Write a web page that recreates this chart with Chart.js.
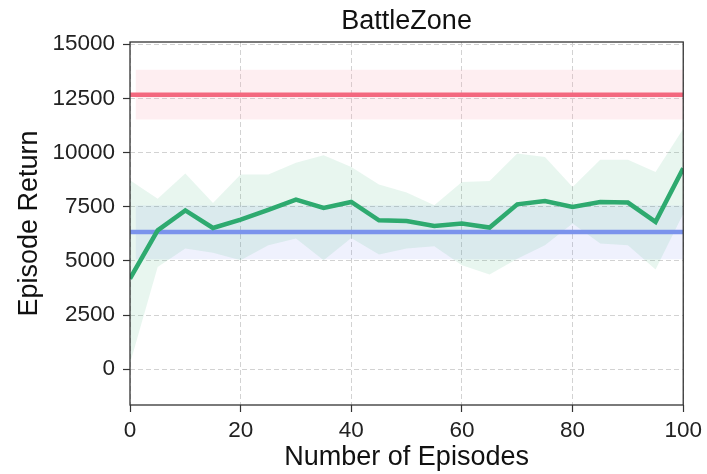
<!DOCTYPE html>
<html>
<head>
<meta charset="utf-8">
<script src="https://cdn.jsdelivr.net/npm/chart.js@4.4.1/dist/chart.umd.min.js"></script>
<style>
  html, body { margin: 0; padding: 0; background: #fff; }
  #wrap { width: 707px; height: 474px; }
</style>
</head>
<body>
<div id="wrap"><canvas id="chart" width="707" height="474"></canvas></div>
<script>
// episode checkpoints (x axis)
const episodes = [0, 5, 10, 15, 20, 25, 30, 35, 40, 45, 50, 55, 60, 65, 70, 75, 80, 85, 90, 95, 100];

// our method: mean return and spread
const greenMean  = [4180, 6410, 7330, 6520, 6900, 7350, 7830, 7440, 7720, 6870, 6840, 6610, 6720, 6540, 7610, 7760, 7490, 7720, 7690, 6800, 9270];
const greenUpper = [8720, 7870, 9030, 7670, 8990, 8990, 9530, 9870, 9330, 8530, 8150, 7570, 8640, 8690, 9950, 9790, 8410, 9670, 9670, 9100, 11100];
const greenLower = [260, 4720, 5570, 5370, 5030, 5720, 6030, 5030, 6060, 5300, 5570, 5670, 4800, 4370, 5100, 5720, 6720, 5800, 5720, 4600, 7180];

// baselines (constant) with their bands
const lineRange = [0, 100];
const bandRange = [1, 100];
const redMean = 12670, redUpper = 13820, redLower = 11520;
const blueMean = 6330, blueUpper = 7550, blueLower = 5080;

// ticks
const yTicks = [0, 2500, 5000, 7500, 10000, 12500, 15000];
const xTicks = [0, 20, 40, 60, 80, 100];

const FONT = "'Liberation Sans', Arial, sans-serif";

function flat(range, v) {
    return range.map(x => ({ x: x, y: v }));
}
function pts(ys) {
    return episodes.map((x, i) => ({ x: x, y: ys[i] }));
}

const base = { pointRadius: 0, borderWidth: 0, tension: 0, fill: false };

// listed bottom to top
const layers = [
    Object.assign({}, base, { data: flat(bandRange, redUpper), fill: '+1', backgroundColor: 'rgba(250, 170, 185, 0.2)' }),
    Object.assign({}, base, { data: flat(bandRange, redLower) }),
    Object.assign({}, base, { data: flat(bandRange, blueUpper), fill: '+1', backgroundColor: 'rgba(120, 140, 240, 0.12)' }),
    Object.assign({}, base, { data: flat(bandRange, blueLower) }),
    Object.assign({}, base, { data: pts(greenUpper), fill: '+1', backgroundColor: 'rgba(46, 170, 111, 0.11)' }),
    Object.assign({}, base, { data: pts(greenLower) }),
    Object.assign({}, base, { data: flat(lineRange, redMean), borderWidth: 4.5, borderColor: '#f3687f' }),
    Object.assign({}, base, { data: flat(lineRange, blueMean), borderWidth: 4.5, borderColor: '#7b93ec' }),
    Object.assign({}, base, { data: pts(greenMean), borderWidth: 4.5, borderColor: '#2eaa6f', borderJoinStyle: 'miter' })
];
layers.forEach((d, i) => { d.order = layers.length - i; });

// box around the plot (matplotlib style spines) + title over the axes
const frame = {
    id: 'frame',
    afterDatasetsDraw(chart) {
        const a = chart.chartArea, ctx = chart.ctx;
        ctx.save();
        ctx.strokeStyle = '#333';
        ctx.lineWidth = 1.3;
        ctx.strokeRect(a.left, a.top, a.right - a.left, a.bottom - a.top);
        ctx.fillStyle = '#111';
        ctx.font = '27px ' + FONT;
        ctx.textAlign = 'center';
        ctx.textBaseline = 'alphabetic';
        ctx.fillText('BattleZone', (a.left + a.right) / 2, 29);
        ctx.restore();
    }
};

const gridOpts = { color: '#d2d2d2', tickColor: '#333', tickLength: 7, tickWidth: 1.2, tickBorderDash: [] };

const ctx = document.getElementById('chart').getContext('2d');
new Chart(ctx, {
    type: 'line',
    data: { datasets: layers },
    options: {
        responsive: false,
        animation: false,
        layout: { padding: { left: 0, right: 23, top: 42, bottom: 0 } },
        plugins: {
            legend: { display: false },
            tooltip: { enabled: false }
        },
        scales: {
            x: {
                type: 'linear',
                min: 0,
                max: 100,
                afterBuildTicks: s => { s.ticks = xTicks.map(v => ({ value: v })); },
                afterFit: s => { s.height = 69; },
                grid: gridOpts,
                border: { display: false, dash: [5, 3] },
                ticks: { color: '#222', padding: 5, maxRotation: 0, font: { family: FONT, size: 22.5 }, callback: v => String(v) },
                title: { display: true, text: 'Number of Episodes', color: '#111', padding: { top: 0, bottom: 0 }, font: { family: FONT, size: 27 } }
            },
            y: {
                type: 'linear',
                min: -1650,
                max: 15100,
                afterBuildTicks: s => { s.ticks = yTicks.map(v => ({ value: v })); },
                afterFit: s => { s.width = 130; },
                grid: gridOpts,
                border: { display: false, dash: [5, 3] },
                ticks: { color: '#222', padding: 8, font: { family: FONT, size: 22.5 }, callback: v => String(v) },
                title: { display: true, text: 'Episode Return', color: '#111', padding: { top: 13, bottom: 0 }, font: { family: FONT, size: 27 } }
            }
        }
    },
    plugins: [frame]
});
</script>
</body>
</html>
